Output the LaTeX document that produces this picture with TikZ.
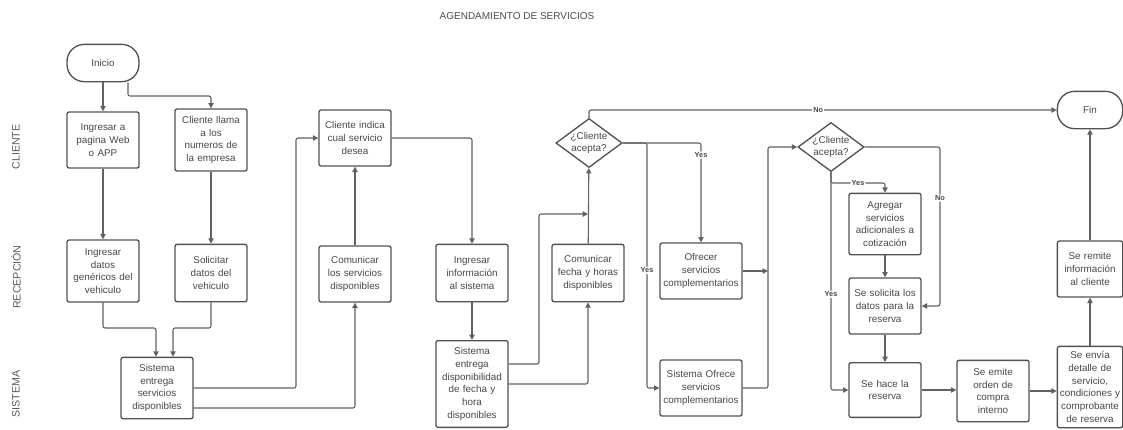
\documentclass[tikz,border=0pt]{standalone}
\usepackage{fontspec}
\setmainfont{Liberation Sans}
\usetikzlibrary{shapes.geometric, calc, arrows.meta, positioning}

\begin{document}
\begin{tikzpicture}[x=0.75pt, y=-0.75pt,
    every node/.style={font=\fontsize{7.4}{9.5}\selectfont, text=black!72},
    box/.style={draw=black!68, line width=1pt, rounded corners=1.5pt, align=center,
        text width=50pt, inner xsep=2pt, inner ysep=1pt, minimum height=42pt},
    term/.style={draw=black!68, line width=1pt, rounded corners=13pt, align=center,
        minimum height=28pt},
    choice/.style={draw=black!68, line width=1pt, diamond, aspect=1.35, inner sep=0pt, align=center},
    flow/.style={draw=black!62, line width=0.8pt, rounded corners=1.5pt, -{Triangle[length=4pt,width=4pt]}},
    lbl/.style={font=\fontsize{5.5}{6}\selectfont\bfseries, fill=white, inner sep=0.8pt},
    lane/.style={font=\fontsize{8}{9}\selectfont, text=black!65, rotate=90}]
    \useasboundingbox (0,0) rectangle (1123,429);

    % title and lanes
    \node[font=\fontsize{7.5}{8}\selectfont, text=black!70] (title) at (517,16) {AGENDAMIENTO DE SERVICIOS};
    \node[lane] (cliente) at (16,147) {CLIENTE};
    \node[lane] (recepcion) at (16,277) {RECEPCIÓN};
    \node[lane] (sistema) at (16,394) {SISTEMA};

    % nodes
    \node[term, minimum width=54pt] (inicio) at (103,63) {Inicio};
    \node[box] (web) at (103,140) {Ingresar a\\pagina Web\\o APP};
    \node[box, minimum height=46.5pt] (llama) at (211,140) {Cliente llama\\a los\\numeros de\\la empresa};
    \node[box, minimum height=46.5pt] (genericos) at (103,271) {Ingresar\\datos\\genéricos del\\vehiculo};
    \node[box, minimum height=43pt] (solicitar) at (211,273) {Solicitar\\datos del\\vehiculo};
    \node[box, minimum height=46pt] (entrega) at (157,388) {Sistema\\entrega\\servicios\\disponibles};
    \node[box] (indica) at (355,138) {Cliente indica\\cual servicio\\desea};
    \node[box] (comunica) at (355,274) {Comunicar\\los servicios\\disponibles};
    \node[box, minimum height=43pt] (ingresar) at (472,273) {Ingresar\\información\\al sistema};
    \node[box, minimum height=65pt] (disp) at (472,384) {Sistema\\entrega\\disponibilidad\\de fecha y\\hora\\disponibles};
    \node[box, minimum height=43pt] (fecha) at (588,273) {Comunicar\\fecha y horas\\disponibles};
    \node[choice] (acepta1) at (589,143) {¿Cliente\\acepta?};
    \node[box, text width=57.5pt] (ofrecer) at (701,271) {Ofrecer\\servicios\\complementarios};
    \node[box, text width=57.5pt] (sofrece) at (701,388) {Sistema Ofrece\\servicios\\complementarios};
    \node[choice] (acepta2) at (831,147) {¿Cliente\\acepta?};
    \node[box, minimum height=46pt] (agregar) at (885,224) {Agregar\\servicios\\adicionales a\\cotización};
    \node[box] (datos) at (885,306) {Se solicita los\\datos para la\\reserva};
    \node[box, minimum height=41pt] (reserva) at (885,390) {Se hace la\\reserva};
    \node[box, minimum height=46pt] (orden) at (993,391) {Se emite\\orden de\\compra\\interno};
    \node[box, text width=47pt, inner xsep=1pt, minimum height=61pt] (envia) at (1090,387) {Se envía\\detalle de\\servicio,\\condiciones y\\comprobante\\de reserva};
    \node[box, text width=47pt, inner xsep=1pt] (remite) at (1090,269) {Se remite\\información\\al cliente};
    \node[term, minimum width=49pt] (fin) at (1090,110) {Fin};

    % connectors
    \draw[flow] (inicio) -- (web);
    \draw[flow] (inicio.south -| 128,0) -- (128,96) -| (llama);
    \draw[flow] (web) -- (genericos);
    \draw[flow] (llama) -- (solicitar);
    \draw[flow] (genericos) |- (156,328) -- (entrega.north -| 156,0);
    \draw[flow] (solicitar) |- (173,328) -- (entrega.north -| 173,0);
    \draw[flow] (entrega.east) -- (296,388) |- (indica.west);
    \draw[flow] (entrega.east |- 0,408) -| (comunica);
    \draw[flow] (comunica) -- (indica);
    \draw[flow] (indica.east) -| (ingresar);
    \draw[flow] (ingresar) -- (disp);
    \draw[flow] (disp.east |- 0,364) -- (539,364) |- (fecha.north |- 0,214);
    \draw[flow] (disp.east |- 0,384) -| (fecha);
    \draw[flow] (fecha) -- (acepta1);
    \draw[flow] (acepta1.north) |- (fin.west) node[lbl, pos=0.745] {No};
    \draw[flow] (acepta1.east) -| (ofrecer) node[lbl, pos=0.56] {Yes};
    \draw[flow] (acepta1.east) -- (647,143) |- (sofrece.west) node[lbl, pos=0.26] {Yes};
    \draw[flow] (ofrecer.east) -- (768,271);
    \draw[flow] (sofrece.east) -- (768,388) |- (acepta2.west);
    \draw[flow] (acepta2.east) -- (940,147) |- (datos.east) node[lbl, pos=0.16] {No};
    \draw[flow] (acepta2.south) -- (831,183) -| (agregar) node[lbl, pos=0.25] {Yes};
    \draw[flow] (acepta2.south) |- (reserva.west) node[lbl, pos=0.28] {Yes};
    \draw[flow] (agregar) -- (datos);
    \draw[flow] (datos) -- (reserva);
    \draw[flow] (reserva) -- (reserva -| orden.west);
    \draw[flow] (orden) -- (orden -| envia.west);
    \draw[flow] (envia) -- (remite);
    \draw[flow] (remite) -- (fin);
\end{tikzpicture}
\end{document}
